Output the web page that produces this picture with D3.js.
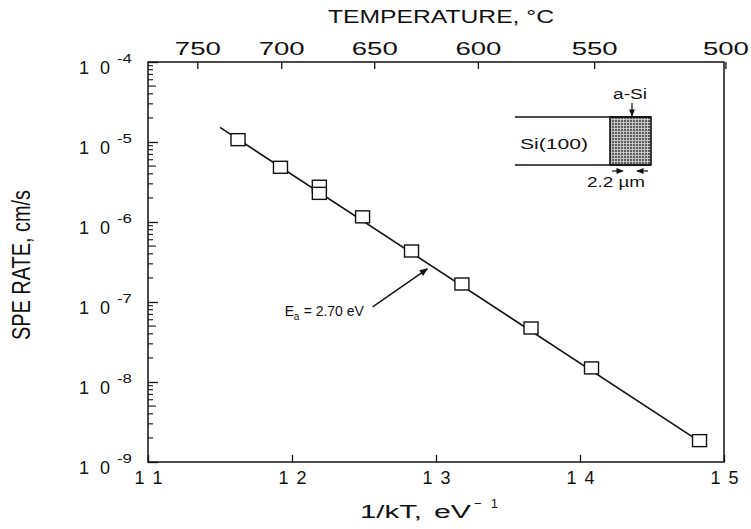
<!DOCTYPE html>
<html>
<head>
<meta charset="utf-8">
<script src="https://cdn.jsdelivr.net/npm/d3@7"></script>
<style>
  html, body { margin: 0; padding: 0; background: #fff; }
  svg { display: block; }
  text { font-family: "Liberation Sans", Arial, sans-serif; fill: #111; }
</style>
</head>
<body>
<svg id="chart" width="751" height="529"></svg>
<script>
// ---- data ----
const invKT   = [11.625, 11.92, 12.19, 12.19, 12.49, 12.83, 13.18, 13.66, 14.08, 14.83];
const speRate = [1.07e-5, 4.83e-6, 2.8e-6, 2.28e-6, 1.16e-6, 4.34e-7, 1.68e-7, 4.73e-8, 1.5e-8, 1.85e-9];
const fitX    = [11.5, 14.88];
const fitY    = [1.52e-5, 1.58e-9];
const xTicks  = [11, 12, 13, 14, 15];
const yDecades = [-4, -5, -6, -7, -8, -9];
const tempTicks = [750, 700, 650, 600, 550, 500];
const kB = 8.617e-5; // eV/K
const annotation = { text: "E", sub: "a", rest: "= 2.70 eV", x: 11.95, y: 7.9e-8,
                     arrowFrom: [12.56, 8.7e-8], arrowTo: [12.94, 2.6e-7] };

// ---- scales ----
const svg = d3.select("#chart");
const L = 148, R = 724, T = 62, B = 462;
const x = d3.scaleLinear().domain([11, 15]).range([L, R]);
const y = d3.scaleLog().domain([1e-9, 1e-4]).range([B, T]);
const ink = "#111";

// frame
svg.append("rect").attr("x", L).attr("y", T).attr("width", R - L).attr("height", B - T)
  .attr("fill", "none").attr("stroke", ink).attr("stroke-width", 1.5);

// bottom axis
const gB = svg.append("g").attr("transform", `translate(0,${B})`)
  .call(d3.axisBottom(x).tickValues(xTicks).tickSize(-7).tickPadding(9).tickFormat(d3.format("d")));
gB.select(".domain").remove();
gB.selectAll("line").attr("stroke", ink).attr("stroke-width", 1.3);
gB.selectAll("text").attr("font-size", 18).attr("textLength", 28).attr("lengthAdjust", "spacing").attr("fill", ink)
  .style("font-family", "Liberation Sans, Arial, sans-serif");

// top axis (temperature)
const tPos = t => 1 / (kB * (t + 273.15));
const gT = svg.append("g").attr("transform", `translate(0,${T})`)
  .call(d3.axisTop(x).tickValues(tempTicks.map(tPos)).tickSize(-7).tickPadding(7)
        .tickFormat((d, i) => tempTicks[i]));
gT.select(".domain").remove();
gT.selectAll("line").attr("stroke", ink).attr("stroke-width", 1.3);
gT.selectAll("text").attr("font-size", 18).attr("textLength", 46).attr("lengthAdjust", "spacingAndGlyphs").attr("fill", ink)
  .style("font-family", "Liberation Sans, Arial, sans-serif");

// left axis: major + minor ticks
const gL = svg.append("g").attr("transform", `translate(${L},0)`)
  .call(d3.axisLeft(y).tickValues(yDecades.map(e => Math.pow(10, e))).tickSize(-10).tickFormat(""));
gL.select(".domain").remove();
gL.selectAll("line").attr("stroke", ink).attr("stroke-width", 1.3);
const minor = [];
yDecades.slice(1).forEach(e => { for (let m = 2; m <= 9; m++) minor.push(m * Math.pow(10, e)); });
svg.append("g").selectAll("line").data(minor).join("line")
  .attr("x1", L).attr("x2", d => L + (Math.round(d / Math.pow(10, Math.floor(Math.log10(d) + 1e-9))) === 5 ? 8 : 5))
  .attr("y1", d => y(d)).attr("y2", d => y(d)).attr("stroke", ink).attr("stroke-width", 1.1);

// left labels 10^-n
const yl = svg.append("g");
yDecades.forEach(e => {
  const yy = y(Math.pow(10, e));
  yl.append("text").attr("x", 79).attr("y", yy + 12).attr("font-size", 18)
    .attr("textLength", 31).attr("lengthAdjust", "spacing").text("10");
  yl.append("text").attr("x", 117).attr("y", yy + 1).attr("font-size", 13)
    .attr("textLength", 15).attr("lengthAdjust", "spacingAndGlyphs").text("-" + (-e));
});

// axis titles
svg.append("text").attr("x", 441).attr("y", 23).attr("text-anchor", "middle").attr("font-size", 18)
  .attr("textLength", 226).attr("lengthAdjust", "spacingAndGlyphs").text("TEMPERATURE, °C");
svg.append("text").attr("x", 360).attr("y", 518).attr("font-size", 18)
  .attr("textLength", 62).attr("lengthAdjust", "spacingAndGlyphs").text("1/kT,");
svg.append("text").attr("x", 434).attr("y", 518).attr("font-size", 18)
  .attr("textLength", 37).attr("lengthAdjust", "spacingAndGlyphs").text("eV");
svg.append("text").attr("x", 474).attr("y", 508).attr("font-size", 13)
  .attr("textLength", 24).attr("lengthAdjust", "spacing").text("−1");
svg.append("text").attr("transform", "translate(30,265) rotate(-90)").attr("text-anchor", "middle")
  .attr("font-size", 26).style("font-family", "Liberation Sans Narrow, Liberation Sans, sans-serif")
  .attr("textLength", 150).attr("lengthAdjust", "spacingAndGlyphs").text("SPE RATE, cm/s");

// fit line
svg.append("path").datum(fitX.map((v, i) => [v, fitY[i]]))
  .attr("d", d3.line().x(d => x(d[0])).y(d => y(d[1])))
  .attr("fill", "none").attr("stroke", ink).attr("stroke-width", 1.6);

// markers
svg.append("g").selectAll("rect").data(invKT.map((v, i) => [v, speRate[i]])).join("rect")
  .attr("x", d => x(d[0]) - 7).attr("y", d => y(d[1]) - 6).attr("width", 14).attr("height", 12)
  .attr("fill", "#fff").attr("stroke", ink).attr("stroke-width", 1.4);

// annotation
const defs = svg.append("defs");
defs.append("marker").attr("id", "ah").attr("viewBox", "0 0 10 10").attr("refX", 9).attr("refY", 5)
  .attr("markerWidth", 8).attr("markerHeight", 6).attr("orient", "auto")
  .append("path").attr("d", "M0,1 L10,5 L0,9 Z").attr("fill", ink);
svg.append("line")
  .attr("x1", x(annotation.arrowFrom[0])).attr("y1", y(annotation.arrowFrom[1]))
  .attr("x2", x(annotation.arrowTo[0])).attr("y2", y(annotation.arrowTo[1]))
  .attr("stroke", ink).attr("stroke-width", 1.4).attr("marker-end", "url(#ah)");
const ax0 = x(annotation.x), ay0 = y(annotation.y) + 6;
svg.append("text").attr("x", ax0).attr("y", ay0).attr("font-size", 14).text(annotation.text);
svg.append("text").attr("x", ax0 + 9).attr("y", ay0 + 4).attr("font-size", 10).text(annotation.sub);
svg.append("text").attr("x", ax0 + 19).attr("y", ay0).attr("font-size", 14)
  .attr("textLength", 60).attr("lengthAdjust", "spacing").text(annotation.rest);

// inset schematic
const pat = defs.append("pattern").attr("id", "stip").attr("width", 3).attr("height", 3)
  .attr("patternUnits", "userSpaceOnUse");
pat.append("rect").attr("width", 3).attr("height", 3).attr("fill", "#c4c4c4");
pat.append("circle").attr("cx", 1).attr("cy", 1).attr("r", 0.9).attr("fill", "#2a2a2a");
const ins = svg.append("g");
ins.append("rect").attr("x", 610).attr("y", 117).attr("width", 41).attr("height", 48)
  .attr("fill", "url(#stip)").attr("stroke", ink).attr("stroke-width", 1.6);
ins.append("line").attr("x1", 515).attr("x2", 651).attr("y1", 117).attr("y2", 117).attr("stroke", ink).attr("stroke-width", 1.4);
ins.append("line").attr("x1", 515).attr("x2", 651).attr("y1", 165).attr("y2", 165).attr("stroke", ink).attr("stroke-width", 1.4);
ins.append("text").attr("x", 520).attr("y", 149).attr("font-size", 15)
  .attr("textLength", 68).attr("lengthAdjust", "spacingAndGlyphs").text("Si(100)");
ins.append("text").attr("x", 613).attr("y", 99).attr("font-size", 14)
  .attr("textLength", 34).attr("lengthAdjust", "spacingAndGlyphs").text("a-Si");
ins.append("line").attr("x1", 632).attr("x2", 632).attr("y1", 103).attr("y2", 116)
  .attr("stroke", ink).attr("stroke-width", 1.2).attr("marker-end", "url(#ah)");
ins.append("line").attr("x1", 612).attr("x2", 623).attr("y1", 171).attr("y2", 171)
  .attr("stroke", ink).attr("stroke-width", 1.2).attr("marker-end", "url(#ah)");
ins.append("line").attr("x1", 648).attr("x2", 637).attr("y1", 171).attr("y2", 171)
  .attr("stroke", ink).attr("stroke-width", 1.2).attr("marker-end", "url(#ah)");
ins.append("text").attr("x", 587).attr("y", 187).attr("font-size", 15)
  .attr("textLength", 58).attr("lengthAdjust", "spacingAndGlyphs").text("2.2 µm");
</script>
</body>
</html>
